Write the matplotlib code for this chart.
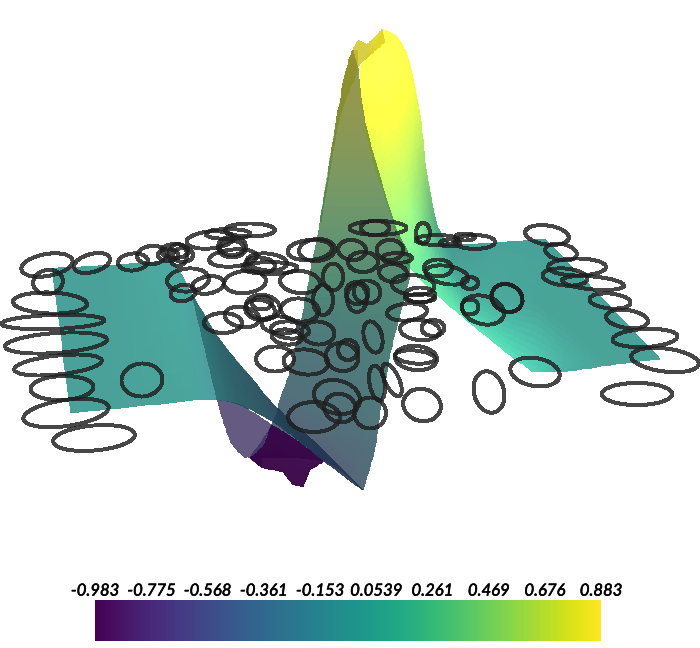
import numpy as np
import matplotlib
matplotlib.use("Agg")
import matplotlib.pyplot as plt
import matplotlib.patheffects as pe
from matplotlib.patches import Ellipse
from matplotlib.colors import Normalize
from matplotlib import cm

VMIN, VMAX = -0.983, 0.883
tick_values = [-0.983, -0.775, -0.568, -0.361, -0.153, 0.0539, 0.261, 0.469, 0.676, 0.883]
tick_labels = ["-0.983", "-0.775", "-0.568", "-0.361", "-0.153", "0.0539", "0.261", "0.469", "0.676", "0.883"]

# Surface sheets in view-plane coordinates.
lobe_x = [[360, 372, 382], [360, 382, 398], [360, 388, 410], [370, 395, 420], [390, 408, 427], [410, 423, 437], [470, 460, 450]]
lobe_y = [[67, 48, 29], [78, 58, 38], [90, 78, 65], [148, 130, 115], [212, 193, 175], [267, 246, 225], [323, 284, 245]]
lobe_v = [[.85, .88, .85], [.85, .88, .85], [.85, .88, .85], [.72, .75, .7], [.55, .55, .5], [.35, .35, .28], [.2, .08, 0]]
lobe_s = [[1.1, 1.15, 1.1], [1.1, 1.15, 1.1], [1.12, 1.15, 1.1], [1.15, 1.2, 1.1], [1.2, 1.2, .95], [1.25, 1.2, .8], [1.3, .95, .85]]

flat_r_x = [[470, 460, 450], [507, 498, 490], [533, 539, 545], [563, 611, 660]]
flat_r_y = [[323, 284, 245], [353, 298, 243], [372, 305, 239], [372, 365, 359]]
flat_r_v = [[.2, .08, 0], [.16, .04, 0], [.1, .03, 0], [.03, .02, 0]]
flat_r_s = [[1.3, .95, .85], [1.3, .95, .92], [1.25, .92, .92], [1.0, .92, .92]]

wall_x = [[352, 355, 358], [345, 352, 359], [335, 351, 367], [320, 357, 394], [310, 360, 410],
          [293, 343, 393], [280, 331, 382], [272, 323, 375], [250, 323, 363]]
wall_y = [[50, 50, 50], [75, 75, 75], [130, 130, 130], [223, 223, 223], [275, 271, 267],
          [360, 350, 340], [400, 400, 400], [425, 436, 447], [458, 461, 490]]
wall_v = [[.85, .85, .85], [.8, .8, .8], [.7, .7, .7], [.4, .4, .4], [.25, .25, .25],
          [-.2, -.1, .05], [-.3, -.2, -.1], [-.5, -.38, -.25], [-.75, -.55, -.4]]
wall_s = [[.6, .6, .6], [.6, .6, .6], [.62, .62, .62], [.68, .68, .68], [.68, .68, .68],
          [.68, .68, .68], [.68, .68, .68], [.68, .68, .68], [.68, .68, .68]]

sliver_x = [[352, 358], [345, 356], [335, 339], [320, 321]]
sliver_y = [[50, 68], [75, 75], [130, 120], [222, 222]]
sliver_v = [[.85, .85], [.8, .8], [.7, .7], [.35, .35]]
sliver_s = [[.6, .6], [.6, .6], [.6, .6], [.6, .6]]

mauve_x = [[217, 240, 272], [230, 246, 263], [245, 250, 262]]
mauve_y = [[400, 405, 425], [440, 440, 447], [458, 458, 468]]
mauve_v = [[-.72, -.72, -.72], [-.72, -.72, -.72], [-.72, -.72, -.72]]
mauve_s = [[.85, .85, .85], [.85, .85, .85], [.85, .85, .85]]

trough_x = [[250, 263, 272, 285, 300, 312, 323], [250, 262, 283, 293, 303, 310, 323]]
trough_y = [[458, 447, 425, 433, 443, 452, 460], [458, 468, 472, 485, 487, 470, 462]]
trough_v = [[-.95] * 7, [-.98] * 7]
trough_s = [[.8] * 7, [.8] * 7]

flat_l_x = [[52, 110, 173], [71, 113, 193]]
flat_l_y = [[268, 265, 260], [413, 409, 400]]
flat_l_v = [[0, 0, 0], [0, 0, 0]]
flat_l_s = [[.92, .92, 1.0], [.92, .92, .95]]

slope_x = [[173, 197, 220, 253, 277, 320, 363], [193, 217, 240, 275, 300, 323, 363]]
slope_y = [[260, 303, 340, 380, 408, 447, 490], [400, 400, 405, 423, 442, 460, 490]]
slope_v = [[0, -.06, -.15, -.3, -.42, -.5, -.5], [0, -.08, -.2, -.33, -.42, -.5, -.5]]
slope_s = [[1.0, .95, .75, .66, .62, .62, .62], [.95, .95, .75, .66, .62, .62, .62]]

shadow_x = [[192, 220, 253, 277, 320, 363], [217, 240, 275, 300, 323, 363]]
shadow_y = [[295, 340, 380, 408, 447, 490], [400, 405, 423, 442, 460, 490]]
shadow_v = [[-.12, -.15, -.25, -.35, -.45, -.45], [-.12, -.18, -.28, -.35, -.45, -.45]]
shadow_s = [[.55] * 6, [.55] * 6]

cap_x = [[353, 358, 367, 375, 382], [358, 362, 368, 376, 385]]
cap_y = [[48, 40, 44, 37, 29], [67, 62, 57, 50, 42]]
cap_v = [[.85] * 5, [.85] * 5]
cap_s = [[.85, .85, .85, .9, .9], [.85, .85, .85, .9, .9]]

# Ring outlines: centre, full width, full height, tilt.
ell_x = [47, 48, 92, 50, 53, 56, 58, 62, 66, 94, 142, 133, 152, 188, 183, 175, 178, 168, 183,
         250, 210, 228, 232, 232, 233, 267, 260, 245, 208, 270, 300, 310, 263, 260, 262, 300,
         223, 242, 280, 287, 290, 378, 375, 317, 352, 363, 390, 397, 393, 423, 437, 450, 465,
         438, 447, 413, 420, 420, 407, 420, 433, 415, 318, 357, 367, 357, 333, 323, 373, 275,
         306, 342, 348, 337, 340, 314, 370, 377, 392, 422, 416, 489, 507, 547, 561, 577, 565,
         593, 610, 627, 645, 665, 637, 535, 507, 483, 470, 475, 470]
ell_y = [265, 282, 263, 303, 322, 343, 365, 388, 413, 438, 380, 262, 255, 280, 293, 251, 255, 255, 255,
         230, 240, 234, 247, 248, 258, 262, 265, 282, 285, 268, 282, 250, 307, 310, 303, 310,
         323, 317, 325, 337, 330, 228, 228, 250, 250, 262, 250, 258, 273, 233, 240, 243, 237,
         268, 275, 285, 295, 298, 312, 330, 328, 357, 333, 293, 292, 298, 277, 300, 337, 359,
         362, 357, 350, 397, 408, 417, 413, 383, 380, 405, 358, 392, 298, 235, 252, 267, 277,
         283, 301, 319, 338, 360, 394, 372, 298, 310, 307, 242, 283]
ell_w = [52, 30, 37, 74, 103, 102, 88, 63, 86, 82, 41, 30, 30, 42, 25, 27, 18, 20, 20,
         50, 47, 45, 28, 24, 48, 40, 30, 42, 32, 55, 40, 45, 34, 30, 20, 38,
         38, 35, 37, 30, 38, 57, 28, 36, 28, 30, 27, 30, 28, 14, 43, 20, 20,
         28, 43, 43, 30, 30, 40, 40, 23, 40, 33, 23, 27, 20, 20, 20, 18, 38,
         45, 33, 20, 47, 32, 52, 32, 15, 14, 38, 42, 30, 32, 44, 32, 58, 45,
         62, 41, 42, 65, 68, 70, 50, 32, 43, 17, 40, 16]
ell_h = [22, 24, 18, 21, 14, 20, 19, 24, 26, 25, 33, 17, 18, 23, 16, 14, 22, 12, 14,
         13, 17, 10, 21, 14, 17, 17, 15, 22, 17, 12, 22, 20, 24, 20, 13, 23,
         20, 20, 17, 15, 17, 14, 15, 22, 20, 20, 20, 10, 18, 20, 10, 7, 7,
         17, 18, 20, 15, 8, 17, 20, 16, 13, 23, 22, 23, 28, 27, 30, 32, 25,
         25, 28, 20, 33, 28, 30, 31, 35, 35, 32, 24, 42, 27, 19, 16, 17, 17,
         13, 15, 18, 18, 23, 22, 28, 27, 28, 15, 14, 12]
ell_a = [-10, -10, -15, 2, -2, -4, -6, -2, -8, -5, -5, -5, -5, -5, -10, 0, 0, 0, 0,
         0, -5, 0, 0, 0, -5, 5, 5, -5, -10, 0, 5, -5, 10, 10, 0, 5,
         0, 10, 5, 5, 5, 0, 0, -5, 5, 0, 0, 0, 5, 0, 0, 0, 0,
         0, 10, 5, 0, 0, -5, 5, 0, 5, 5, 10, 10, 0, 0, 0, -15, 0,
         5, 10, 0, 15, 20, 0, 10, -10, -25, 15, 5, -15, 28, 8, 10, 0, 5,
         5, 5, 8, -3, 7, 0, 10, 25, 15, 0, 0, 0]

fig = plt.figure(figsize=(7.0, 6.48), dpi=100)
ax = fig.add_axes([0, 0, 1, 1])
ax.set_xlim(0, 700)
ax.set_ylim(648, 0)
ax.axis("off")

norm = Normalize(VMIN, VMAX)
cmap = matplotlib.colormaps["viridis"]


def refine_axis(a, axis, n, smooth):
    """Render-time subdivision of a sheet so it draws as a continuous surface."""
    a = np.moveaxis(a, axis, 0)
    m = a.shape[0]
    t = np.linspace(0, m - 1, (m - 1) * n + 1)
    i = np.minimum(t.astype(int), m - 2)
    f = (t - i).reshape((-1,) + (1,) * (a.ndim - 1))
    p1, p2 = a[i], a[i + 1]
    if smooth and m > 2:
        p0 = a[np.maximum(i - 1, 0)]
        p3 = a[np.minimum(i + 2, m - 1)]
        out = 0.5 * (2 * p1 + (p2 - p0) * f + (2 * p0 - 5 * p1 + 4 * p2 - p3) * f ** 2
                     + (3 * p1 - p0 - 3 * p2 + p3) * f ** 3)
    else:
        out = p1 + (p2 - p1) * f
    return np.moveaxis(out, 0, axis)


def fade(alpha):
    """Whole-sheet translucency, so neighbouring mesh cells do not double up."""
    def apply(img, dpi):
        img = img.copy()
        img[..., 3] *= alpha
        return img, 0, 0
    return apply


def sheet(pieces, alpha=0.8, desat=0.0, join_axis=0, n=10):
    """pieces: (x, y, v, s, smooth) tables sharing one edge, drawn as one mesh."""
    out = []
    for k in range(4):
        parts = []
        for j, p in enumerate(pieces):
            g = np.array(p[k], float)
            g = refine_axis(refine_axis(g, 0, n, p[4]), 1, n, p[4])
            if j:
                g = np.take(g, range(1, g.shape[join_axis]), axis=join_axis)
            parts.append(g)
        out.append(np.concatenate(parts, axis=join_axis))
    x, y, v, s = out
    vc = 0.25 * (v[:-1, :-1] + v[1:, :-1] + v[:-1, 1:] + v[1:, 1:])
    sc = 0.25 * (s[:-1, :-1] + s[1:, :-1] + s[:-1, 1:] + s[1:, 1:])
    rgba = cmap(norm(vc))
    rgb = rgba[..., :3] * sc[..., None]
    grey = rgb.mean(axis=-1, keepdims=True)
    rgba[..., :3] = np.clip(rgb * (1 - desat) + grey * desat, 0, 1)
    mesh = ax.pcolormesh(x, y, vc, shading="flat", cmap=cmap, norm=norm, antialiased=False, linewidth=0)
    mesh.set_array(None)
    mesh.set_facecolor(rgba.reshape(-1, 4))
    mesh.set_edgecolor("none")
    mesh.set_agg_filter(fade(alpha))
    return mesh


sheet([(lobe_x, lobe_y, lobe_v, lobe_s, True), (flat_r_x, flat_r_y, flat_r_v, flat_r_s, False)], join_axis=0)
sheet([(wall_x, wall_y, wall_v, wall_s, True)], desat=0.25)
sheet([(sliver_x, sliver_y, sliver_v, sliver_s, True)], alpha=0.5)
sheet([(mauve_x, mauve_y, mauve_v, mauve_s, True)], desat=0.25)
sheet([(trough_x, trough_y, trough_v, trough_s, False)], alpha=0.95)
sheet([(flat_l_x, flat_l_y, flat_l_v, flat_l_s, False), (slope_x, slope_y, slope_v, slope_s, True)], join_axis=1)
sheet([(shadow_x, shadow_y, shadow_v, shadow_s, True)], alpha=0.5)
sheet([(cap_x, cap_y, cap_v, cap_s, False)])

for x, y, w, h, a in zip(ell_x, ell_y, ell_w, ell_h, ell_a):
    ax.add_patch(Ellipse((x, y), w, h, angle=a, fill=False, edgecolor=(0.12, 0.12, 0.12, 0.82),
                         linewidth=2.1, antialiased=False))

cax = fig.add_axes([95 / 700, 1 - 641 / 648, 506 / 700, 41 / 648])
cb = fig.colorbar(cm.ScalarMappable(norm=norm, cmap=cmap), cax=cax, orientation="horizontal")
cb.outline.set_visible(False)
cb.set_ticks(tick_values)
cb.set_ticklabels(tick_labels)
cax.xaxis.set_ticks_position("top")
cax.tick_params(axis="x", length=0, pad=1)
for t in cax.get_xticklabels():
    t.set_fontfamily("Lato")
    t.set_fontstyle("italic")
    t.set_fontsize(12)
    t.set_color("black")
    t.set_path_effects([pe.withStroke(linewidth=0.4, foreground="black")])

fig.savefig("out.png", dpi=100)
